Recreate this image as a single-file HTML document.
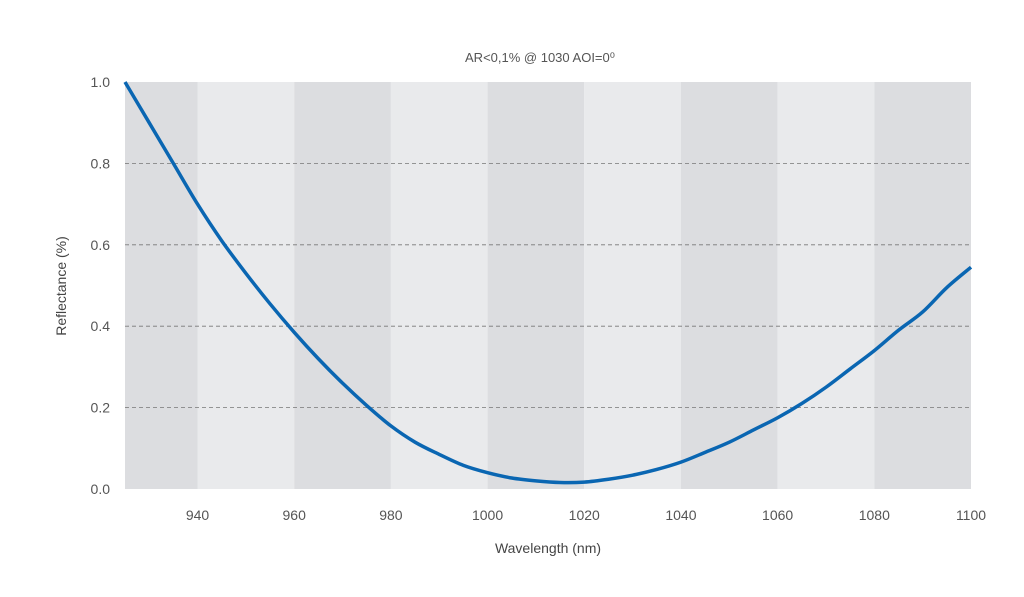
<!DOCTYPE html>
<html><head><meta charset="utf-8"><style>
body{margin:0;background:#fff}
svg{display:block;font-family:"Liberation Sans",sans-serif}
</style></head><body>
<svg width="1024" height="597">
<g id="bands"></g><g id="grid"></g><g id="ticks"></g>
<path id="curve" fill="none" stroke="#0a66b2" stroke-width="3.5" stroke-linejoin="round"/>
<text x="540" y="62" text-anchor="middle" font-size="13" fill="#555">AR&lt;0,1% @ 1030 AOI=0⁰</text>
<text x="548" y="553" text-anchor="middle" font-size="14" fill="#444">Wavelength (nm)</text>
<text transform="translate(66,286) rotate(-90)" text-anchor="middle" font-size="14" fill="#444">Reflectance (%)</text>
</svg>
<script>
const wavelengths=[925,930,935,940,945,950,955,960,965,970,975,980,985,990,995,1000,1005,1010,1015,1020,1025,1030,1035,1040,1045,1050,1055,1060,1065,1070,1075,1080,1085,1090,1095,1100];
const reflectance=[1.0,0.90,0.80,0.70,0.61,0.53,0.455,0.385,0.32,0.26,0.205,0.155,0.115,0.085,0.058,0.04,0.027,0.02,0.016,0.017,0.024,0.034,0.048,0.066,0.09,0.115,0.145,0.175,0.21,0.25,0.295,0.34,0.39,0.435,0.495,0.545];
const xTicks=[940,960,980,1000,1020,1040,1060,1080,1100];
const yTicks=[0.0,0.2,0.4,0.6,0.8,1.0];
const bandEdges=[925,940,960,980,1000,1020,1040,1060,1080,1100];
const X0=125,X1=971,Y0=489,Y1=82,xmin=925,xmax=1100;
const xs=v=>X0+(v-xmin)/(xmax-xmin)*(X1-X0);
const ys=v=>Y0-v*(Y0-Y1);
const NS="http://www.w3.org/2000/svg";
function mk(tag,parent,attrs){const e=document.createElementNS(NS,tag);for(const k in attrs)e.setAttribute(k,attrs[k]);document.getElementById(parent).appendChild(e);return e;}
for(let i=0;i<bandEdges.length-1;i++){
 const r=mk('rect','bands',{x:xs(bandEdges[i]),y:Y1,width:xs(bandEdges[i+1])-xs(bandEdges[i]),height:Y0-Y1,fill:i%2?'#e9eaec':'#dcdde0'});
 
 
}
yTicks.forEach(v=>{
 if(v>0&&v<1){const l=mk('line','grid',{x1:X0,x2:X1,y1:ys(v),y2:ys(v),stroke:'#777','stroke-width':0.8,'stroke-dasharray':'4,3'});
 
 }
 const t=mk('text','ticks',{x:110,y:ys(v)+5,'text-anchor':'end','font-size':14,fill:'#555'});
 
 
 t.textContent=v.toFixed(1);
});
xTicks.forEach(v=>{
 const t=mk('text','ticks',{x:xs(v),y:520,'text-anchor':'middle','font-size':14,fill:'#555'});
 
 
 t.textContent=v;
});
const pts=wavelengths.map((w,i)=>[xs(w),ys(reflectance[i])]);
let d='M'+pts[0][0]+','+pts[0][1];
for(let i=0;i<pts.length-1;i++){
 const p0=pts[i-1]||pts[i],p1=pts[i],p2=pts[i+1],p3=pts[i+2]||p2;
 d+=' C'+(p1[0]+(p2[0]-p0[0])/6)+','+(p1[1]+(p2[1]-p0[1])/6)+' '+(p2[0]-(p3[0]-p1[0])/6)+','+(p2[1]-(p3[1]-p1[1])/6)+' '+p2[0]+','+p2[1];
}
document.getElementById('curve').setAttribute('d',d);
</script>
</body></html>
